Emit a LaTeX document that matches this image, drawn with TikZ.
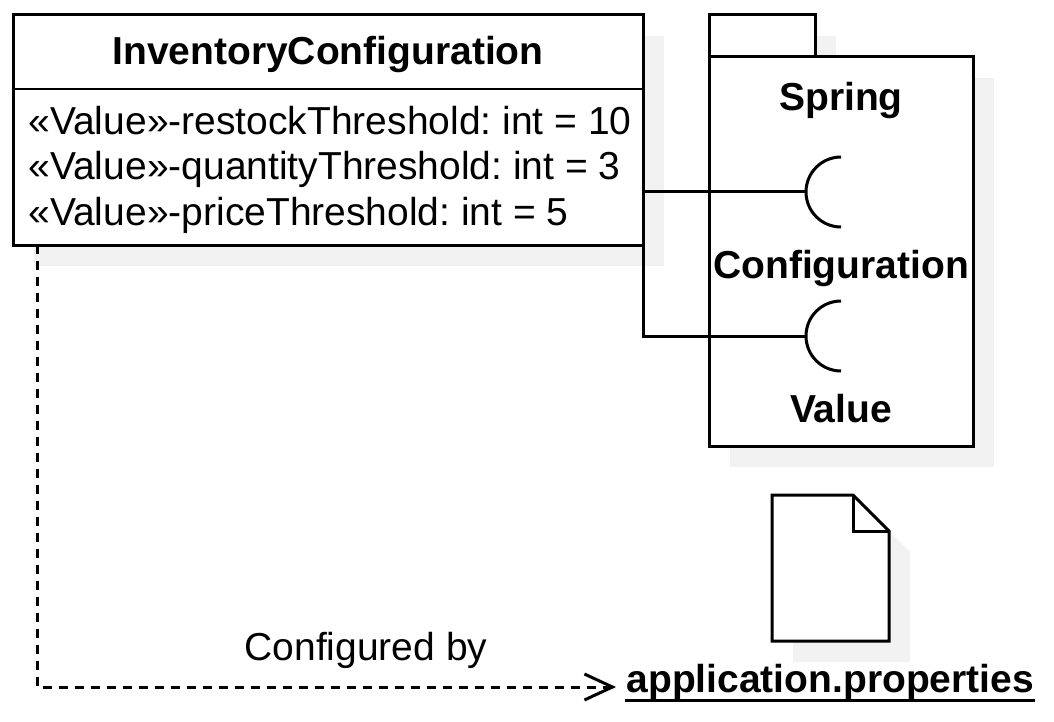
\documentclass[tikz,border=0pt]{standalone}
\usepackage{fontspec}
\setmainfont{Liberation Sans}
\usetikzlibrary{arrows.meta, positioning, shadows}

\definecolor{shadowgrey}{HTML}{F2F2F2}
\frenchspacing

\begin{document}
\begin{tikzpicture}[
        x = 1pt, y = -1pt, line width = 3pt,
        >= {Straight Barb[length = 28pt, width = 26pt, line width = 3pt]},
        box/.style = {draw, fill = white, inner sep = 0pt, outer sep = 0pt, anchor = north west,
            copy shadow = {shadow xshift = 21pt, shadow yshift = -21pt, draw = none, fill = shadowgrey}},
        caption/.style = {font = \fontsize{39}{44}\selectfont, inner sep = 0pt},
        title/.style = {caption, font = \fontsize{39}{44}\selectfont\bfseries}
    ]
      \useasboundingbox (0, 0) rectangle (1054, 722);

      \node[box, minimum width = 630pt, minimum height = 230pt] (class) at (13, 15) {};
      \node[box, minimum width = 106pt, minimum height = 42pt] (tab) at (709, 15) {};
      \node[box, minimum width = 264pt, minimum height = 389pt] (spring) at (709, 57) {};

      \node[title] (classname) at (328, 55) {InventoryConfiguration};
      \draw[line width = 2.4pt] (class.west |- 0, 89) -- (class.east |- 0, 89);
      \node[caption, anchor = base west] (restock) at (27, 135) {«Value»-restockThreshold: int = 10};
      \node[caption, anchor = base west] (quantity) at (27, 180) {«Value»-quantityThreshold: int = 3};
      \node[caption, anchor = base west] (price) at (27, 225) {«Value»-priceThreshold: int = 5};

      \node[title] (springname) at (841, 101) {Spring};
      \node[title] (configname) at (841, 269) {Configuration};
      \node[title] (valuename) at (841, 409) {Value};

      % sockets
      \coordinate (configport) at (806, 192);
      \coordinate (valueport) at (806, 336);
      \draw (841, 157) arc[start angle = 90, end angle = 270, radius = 35pt];
      \draw (841, 301) arc[start angle = 90, end angle = 270, radius = 35pt];

      % file
      \fill[shadowgrey] (793, 516) -- (874, 516) -- (910, 552) -- (910, 662) -- (793, 662) -- cycle;
      \draw[fill = white, line join = miter] (772, 495) -- (853, 495) -- (889, 531) -- (889, 641) -- (772, 641) -- cycle;
      \draw (853, 495) -- (853, 531) -- (889, 531);

      \node[title, anchor = base west] (file) at (625, 692) {application.properties};
      \draw ([yshift = -8pt]file.base west) -- ([yshift = -8pt]file.base east);
      \node[caption] (configured) at (366, 650) {Configured by};

      \coordinate (start) at (37, 245);
      \coordinate (corner) at (643, 245);
      \coordinate (tip) at (616, 687);

      \draw (configport -| class.east) -- (configport);
      \draw (corner) |- (valueport);
      \draw[->, dash pattern = on 9pt off 7pt] (start) |- (tip);
    \end{tikzpicture}
\end{document}
